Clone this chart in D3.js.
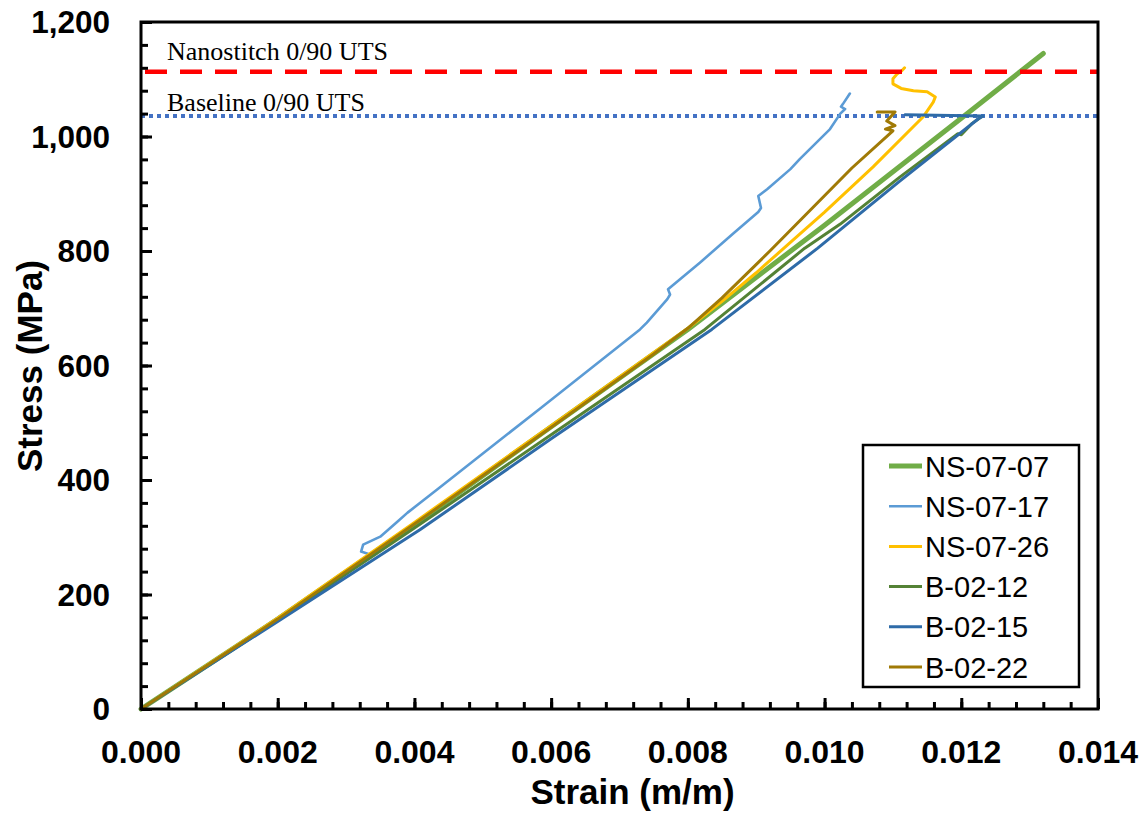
<!DOCTYPE html>
<html><head><meta charset="utf-8">
<script src="https://cdn.jsdelivr.net/npm/d3@7"></script>
<style>
html,body{margin:0;padding:0;background:#fff;}
svg{display:block;}
</style></head>
<body>
<svg id="chart" width="1148" height="829"></svg>
<script>
// ---- data (strain m/m, stress MPa) ----
const seriesNames = ["NS-07-07","NS-07-17","NS-07-26","B-02-12","B-02-15","B-02-22"];
const seriesColors = ["#70AD47","#5B9BD5","#FFC000","#548235","#2E6BA8","#A07A06"];
const seriesWidths = [5,2.6,3,3,3,3];

const ns0707 = [[0,0],[0.002,157],[0.004,322],[0.006,493],[0.008,663],[0.010,845],[0.012,1032],[0.0132,1145]];
const ns0717 = [[0,0],[0.0015,119],[0.003,240],[0.00335,270],[0.00322,275],[0.00325,287],[0.0035,301],[0.00375,327],[0.0039,343],[0.00437,387],[0.00584,525],[0.0073,663],[0.0074,675],[0.0077,716],[0.00774,724],[0.00771,733],[0.00789,751],[0.00818,780],[0.00866,830],[0.00903,868],[0.00907,875],[0.00903,896],[0.00916,908],[0.0095,943],[0.00964,961],[0.01008,1013],[0.01023,1040],[0.0103,1048],[0.01024,1052],[0.01027,1057],[0.01037,1075]];
const ns0726 = [[0,0],[0.002,159],[0.004,326],[0.006,495],[0.008,665],[0.0085,712],[0.009,762],[0.0095,815],[0.010,868],[0.01071,947],[0.01144,1034],[0.01159,1060],[0.01162,1069],[0.0115,1078],[0.0113,1080],[0.01112,1084],[0.011,1092],[0.011,1101],[0.01106,1109],[0.01113,1115],[0.01117,1120]];
const b0212 = [[0,0],[0.002,155],[0.004,316],[0.006,479],[0.00825,663],[0.00971,805],[0.01023,847],[0.0111,929],[0.01195,1005],[0.0120,1003],[0.01215,1022],[0.0123,1035]];
const b0215 = [[0,0],[0.002,153],[0.00408,313],[0.006,472],[0.00835,663],[0.0099,805],[0.0111,922],[0.01225,1031],[0.01232,1036],[0.01118,1038]];
const b0222 = [[0,0],[0.002,157],[0.004,323],[0.006,492],[0.0075,620],[0.008,665],[0.0085,718],[0.0092,800],[0.0104,945],[0.0110,1010],[0.01089,1013],[0.01103,1019],[0.01091,1027],[0.01103,1043],[0.01077,1043]];
const seriesData = [ns0707, ns0717, ns0726, b0212, b0215, b0222];

const refLabels = ["Nanostitch 0/90 UTS","Baseline 0/90 UTS"];
const refValues = [1113, 1036];

const xTicks = [0,0.002,0.004,0.006,0.008,0.010,0.012,0.014];
const yTicks = [0,200,400,600,800,1000,1200];

// ---- layout ----
const L = 141, R = 1098, T = 22, B = 709;
const svg = d3.select("#chart");
const x = d3.scaleLinear().domain([0,0.014]).range([L,R]);
const y = d3.scaleLinear().domain([0,1200]).range([B,T]);

// reference line (baseline, dotted) under curves
svg.append("line")
  .attr("x1",L).attr("x2",R).attr("y1",y(refValues[1])).attr("y2",y(refValues[1]))
  .attr("stroke","#4472C4").attr("stroke-width",4).attr("stroke-dasharray","4,4");

// curves
const line = d3.line().x(d=>x(d[0])).y(d=>y(d[1]));
seriesData.forEach((d,i)=>{
  svg.append("path").datum(d)
    .attr("d",line).attr("fill","none")
    .attr("stroke",seriesColors[i]).attr("stroke-width",seriesWidths[i])
    .attr("stroke-linejoin","round").attr("stroke-linecap","round");
});

// red dashed line
svg.append("line")
  .attr("x1",L+4).attr("x2",R).attr("y1",y(refValues[0])).attr("y2",y(refValues[0]))
  .attr("stroke","#FF0000").attr("stroke-width",4.5).attr("stroke-dasharray","22,13");

// annotation texts
svg.append("text").attr("x",167).attr("y",60)
  .attr("font-family","'Liberation Serif','Times New Roman',serif").attr("font-size",26)
  .attr("fill","#000").text(refLabels[0]);
svg.append("text").attr("x",167).attr("y",111)
  .attr("font-family","'Liberation Serif','Times New Roman',serif").attr("font-size",26)
  .attr("fill","#000").text(refLabels[1]);

// axes with inward ticks
const minorX = d3.range(0,0.01401,0.0004);
const minorY = d3.range(0,1201,40);
const axG = svg.append("g");
axG.append("g").attr("transform",`translate(0,${B})`)
  .call(d3.axisTop(x).tickValues(minorX).tickSize(7).tickFormat(""))
  .call(g=>g.select(".domain").remove())
  .call(g=>g.selectAll("line").attr("stroke","#000").attr("stroke-width",3));
axG.append("g").attr("transform",`translate(0,${B})`)
  .call(d3.axisTop(x).tickValues(xTicks).tickSize(11).tickFormat(""))
  .call(g=>g.select(".domain").remove())
  .call(g=>g.selectAll("line").attr("stroke","#000").attr("stroke-width",3));
axG.append("g").attr("transform",`translate(${L},0)`)
  .call(d3.axisRight(y).tickValues(minorY).tickSize(7).tickFormat(""))
  .call(g=>g.select(".domain").remove())
  .call(g=>g.selectAll("line").attr("stroke","#000").attr("stroke-width",3));
axG.append("g").attr("transform",`translate(${L},0)`)
  .call(d3.axisRight(y).tickValues(yTicks).tickSize(11).tickFormat(""))
  .call(g=>g.select(".domain").remove())
  .call(g=>g.selectAll("line").attr("stroke","#000").attr("stroke-width",3));

// frame
svg.append("rect").attr("x",L).attr("y",T).attr("width",R-L).attr("height",B-T)
  .attr("fill","none").attr("stroke","#000").attr("stroke-width",3);

// tick labels
const fmtX = d3.format(".3f"), fmtY = d3.format(",");
svg.append("g").selectAll("text").data(xTicks).join("text")
  .attr("x",d=>x(d)).attr("y",763).attr("text-anchor","middle")
  .attr("font-family","'Liberation Sans',Arial,sans-serif").attr("font-weight","bold")
  .attr("font-size",32).attr("fill","#000").text(d=>fmtX(d));
svg.append("g").selectAll("text").data(yTicks).join("text")
  .attr("x",110).attr("y",d=>y(d)+11).attr("text-anchor","end")
  .attr("font-family","'Liberation Sans',Arial,sans-serif").attr("font-weight","bold")
  .attr("font-size",31.5).attr("fill","#000").text(d=>fmtY(d));

// axis titles
svg.append("text").attr("x",(L+R)/2+13).attr("y",804).attr("text-anchor","middle")
  .attr("font-family","'Liberation Sans',Arial,sans-serif").attr("font-weight","bold")
  .attr("font-size",35).attr("fill","#000").text("Strain (m/m)");
svg.append("text").attr("transform","translate(42,366) rotate(-90)").attr("text-anchor","middle")
  .attr("font-family","'Liberation Sans',Arial,sans-serif").attr("font-weight","bold")
  .attr("font-size",35).attr("fill","#000").text("Stress (MPa)");

// legend
const lg = svg.append("g");
lg.append("rect").attr("x",863).attr("y",445).attr("width",216).attr("height",242)
  .attr("fill","#fff").attr("stroke","#000").attr("stroke-width",2.5);
seriesNames.forEach((n,i)=>{
  const cy = 466 + i*40.2;
  lg.append("line").attr("x1",889).attr("x2",922).attr("y1",cy).attr("y2",cy)
    .attr("stroke",seriesColors[i]).attr("stroke-width",seriesWidths[i]);
  lg.append("text").attr("x",925).attr("y",cy+10.5)
    .attr("font-family","'Liberation Sans',Arial,sans-serif")
    .attr("font-size",29).attr("fill","#000").text(n);
});
</script>
</body></html>
